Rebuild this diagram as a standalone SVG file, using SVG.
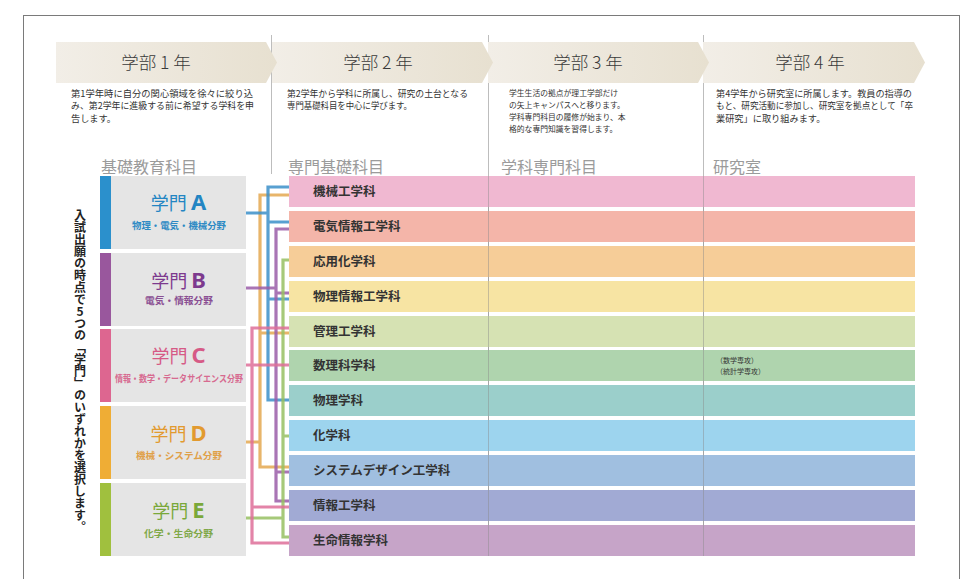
<svg xmlns="http://www.w3.org/2000/svg" width="973" height="579" viewBox="0 0 973 579">
<defs>
<linearGradient id="bn" x1="0" y1="0" x2="1" y2="0">
<stop offset="0" stop-color="#f2eee7"/>
<stop offset="1" stop-color="#e7e0d0"/>
</linearGradient>
</defs>
<style>
text{font-family:"Noto Sans CJK JP","Noto Sans",sans-serif;}
.hd{font-size:17.5px;fill:#3a3a3a;text-anchor:middle;font-weight:300;}
.ds{font-size:9.2px;fill:#333;}
.ds3{font-size:7.8px;fill:#333;}
.sec{font-size:16px;fill:#9b9b9b;}
.box{fill:#e5e5e5;}
.gt{font-size:18px;text-anchor:middle;}
.gl{font-size:22px;font-weight:700;font-family:"Noto Sans","Liberation Sans",sans-serif;}
.gs{font-size:9.4px;font-weight:700;}
.dep{font-size:12.5px;fill:#333;font-weight:700;}
.dv{stroke:#bdbdbd;stroke-width:1;fill:none;}
.cn{fill:none;stroke-width:3.2;stroke-opacity:0.85;}
.note{font-size:7px;fill:#333;}
</style>
<rect x="0" y="0" width="973" height="579" fill="#fff"/>
<rect x="23.5" y="15.5" width="936" height="600" fill="none" stroke="#7a7a7a" stroke-width="1"/>

<g id="dividers">
<line class="dv" x1="271.5" y1="35" x2="271.5" y2="174"/>
<line class="dv" x1="488.5" y1="35" x2="488.5" y2="556"/>
<line class="dv" x1="703.5" y1="35" x2="703.5" y2="556"/>
</g>

<g id="banners">
<polygon points="703,42 914,42 925,62.5 914,83 703,83" fill="url(#bn)"/>
<polygon points="488,42 698,42 709,62.5 698,83 488,83" fill="url(#bn)"/>
<polygon points="272,42 482,42 493,62.5 482,83 272,83" fill="url(#bn)"/>
<polygon points="56,42 266,42 277,62.5 266,83 56,83" fill="url(#bn)"/>
<text class="hd" x="156" y="69">学部 1 年</text>
<text class="hd" x="378" y="69">学部 2 年</text>
<text class="hd" x="588" y="69">学部 3 年</text>
<text class="hd" x="810" y="69">学部 4 年</text>
</g>

<g id="descriptions">
<text class="ds" x="71" y="96.5" textLength="182" lengthAdjust="spacingAndGlyphs">第1学年時に自分の関心領域を徐々に絞り込</text>
<text class="ds" x="71" y="109" textLength="183" lengthAdjust="spacingAndGlyphs">み、第2学年に進級する前に希望する学科を申</text>
<text class="ds" x="71" y="121.5">告します。</text>
<text class="ds" x="287" y="96.5" textLength="181" lengthAdjust="spacingAndGlyphs">第2学年から学科に所属し、研究の土台となる</text>
<text class="ds" x="287" y="109" textLength="125" lengthAdjust="spacingAndGlyphs">専門基礎科目を中心に学びます。</text>
<text class="ds3" x="509" y="96">学生生活の拠点が理工学部だけ</text>
<text class="ds3" x="509" y="108">の矢上キャンパスへと移ります。</text>
<text class="ds3" x="509" y="120">学科専門科目の履修が始まり、本</text>
<text class="ds3" x="509" y="132">格的な専門知識を習得します。</text>
<text class="ds" x="716" y="96.5" textLength="196" lengthAdjust="spacingAndGlyphs">第4学年から研究室に所属します。教員の指導の</text>
<text class="ds" x="716" y="109" textLength="197" lengthAdjust="spacingAndGlyphs">もと、研究活動に参加し、研究室を拠点として「卒</text>
<text class="ds" x="716" y="121.5">業研究」に取り組みます。</text>
</g>

<g id="sections">
<text class="sec" x="101" y="173">基礎教育科目</text>
<text class="sec" x="288" y="173">専門基礎科目</text>
<text class="sec" x="501" y="173">学科専門科目</text>
<text class="sec" x="713" y="173">研究室</text>
</g>

<g id="vertical-note">
<text x="80" y="209" style="writing-mode:vertical-rl;text-orientation:upright;font-size:12px;font-weight:700;fill:#222;">入試出願の時点で5つの「学門」のいずれかを選択します。</text>
</g>

<g id="group-A">
<rect x="100" y="176" width="11" height="73" fill="#2b90cc"/>
<rect class="box" x="111" y="176" width="135" height="73"/>
<text class="gt" x="178.5" y="210" fill="#2385c3">学門 <tspan class="gl">A</tspan></text>
<text class="gs" x="132" y="228.5" fill="#2d8ac4" textLength="94" lengthAdjust="spacingAndGlyphs">物理・電気・機械分野</text>
</g>
<g id="group-B">
<rect x="100" y="253" width="11" height="73" fill="#99579d"/>
<rect class="box" x="111" y="253" width="135" height="73"/>
<text class="gt" x="178.5" y="288" fill="#7d3a8e">学門 <tspan class="gl">B</tspan></text>
<text class="gs" x="145" y="303.5" fill="#8a4f93" textLength="68" lengthAdjust="spacingAndGlyphs">電気・情報分野</text>
</g>
<g id="group-C">
<rect x="100" y="329" width="11" height="73" fill="#dd6690"/>
<rect class="box" x="111" y="329" width="135" height="73"/>
<text class="gt" x="178.5" y="363" fill="#d65a86">学門 <tspan class="gl">C</tspan></text>
<text class="gs" x="115" y="381.5" fill="#d76a90" textLength="128" lengthAdjust="spacingAndGlyphs">情報・数学・データサイエンス分野</text>
</g>
<g id="group-D">
<rect x="100" y="406" width="11" height="73" fill="#efad35"/>
<rect class="box" x="111" y="406" width="135" height="73"/>
<text class="gt" x="178.5" y="441" fill="#e29a2f">学門 <tspan class="gl">D</tspan></text>
<text class="gs" x="136" y="458.5" fill="#e0a048" textLength="86" lengthAdjust="spacingAndGlyphs">機械・システム分野</text>
</g>
<g id="group-E">
<rect x="100" y="483" width="11" height="73" fill="#a0c03e"/>
<rect class="box" x="111" y="483" width="135" height="73"/>
<text class="gt" x="178.5" y="518" fill="#7aa83a">学門 <tspan class="gl">E</tspan></text>
<text class="gs" x="144" y="536.5" fill="#7fa848" textLength="69" lengthAdjust="spacingAndGlyphs">化学・生命分野</text>
</g>

<g id="departments">
<g id="dep-1"><rect x="289" y="176" width="626" height="31" fill="#f0b8d1"/><text class="dep" x="313" y="196">機械工学科</text></g>
<g id="dep-2"><rect x="289" y="211" width="626" height="31" fill="#f4b5a9"/><text class="dep" x="313" y="231">電気情報工学科</text></g>
<g id="dep-3"><rect x="289" y="246" width="626" height="31" fill="#f6cd98"/><text class="dep" x="313" y="266">応用化学科</text></g>
<g id="dep-4"><rect x="289" y="281" width="626" height="31" fill="#f7e4a3"/><text class="dep" x="313" y="301">物理情報工学科</text></g>
<g id="dep-5"><rect x="289" y="316" width="626" height="31" fill="#d6e2b3"/><text class="dep" x="313" y="336">管理工学科</text></g>
<g id="dep-6"><rect x="289" y="350" width="626" height="31" fill="#afd4ae"/><text class="dep" x="313" y="370">数理科学科</text>
<text class="note" x="716" y="362.5">（数学専攻）</text><text class="note" x="716" y="374">（統計学専攻）</text></g>
<g id="dep-7"><rect x="289" y="385" width="626" height="31" fill="#9bcfcb"/><text class="dep" x="313" y="405">物理学科</text></g>
<g id="dep-8"><rect x="289" y="420" width="626" height="31" fill="#9dd4ee"/><text class="dep" x="313" y="440">化学科</text></g>
<g id="dep-9"><rect x="289" y="455" width="626" height="31" fill="#a0bfe0"/><text class="dep" x="313" y="475">システムデザイン工学科</text></g>
<g id="dep-10"><rect x="289" y="490" width="626" height="31" fill="#a1aad4"/><text class="dep" x="313" y="510">情報工学科</text></g>
<g id="dep-11"><rect x="289" y="525" width="626" height="31" fill="#c6a4c8"/><text class="dep" x="313" y="545">生命情報学科</text></g>
</g>

<g id="bar-dividers" stroke="#8a8a8a" stroke-opacity="0.45" stroke-width="1">
<line x1="488.5" y1="176" x2="488.5" y2="556"/>
<line x1="703.5" y1="176" x2="703.5" y2="556"/>
</g>

<g id="connectors">
<path class="cn" stroke="#e4a850" d="M246,442 H260 M289,195 H260 V467 H289 M260,333 H289"/>
<path class="cn" stroke="#3b8fc9" d="M246,213 H268 M289,187 H268 V400 H289 M268,222 H289 M268,299 H289"/>
<path class="cn" stroke="#9a5da8" d="M246,288 H276 M289,229 H276 V501 H289 M276,293 H289 M276,472 H289"/>
<path class="cn" stroke="#97bf62" d="M246,518 H283 M289,260 H283 V537 H289 M283,436 H289"/>
<path class="cn" stroke="#de6f99" d="M246,365 H289 M289,328 H252 V543 H289 M252,507 H289"/>
</g>
</svg>
